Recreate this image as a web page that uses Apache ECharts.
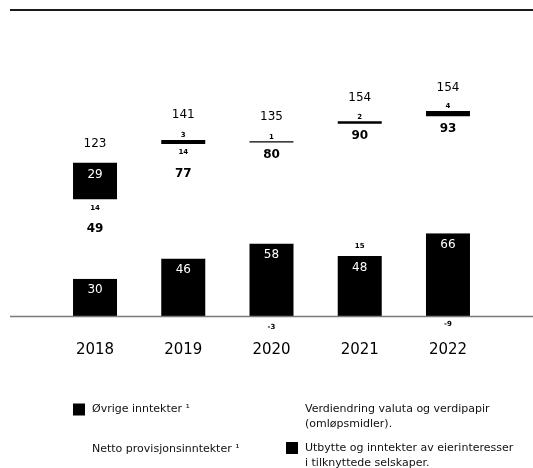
<!DOCTYPE html>
<html>
<head>
<meta charset="utf-8">
<script src="https://cdn.jsdelivr.net/npm/echarts@6/dist/echarts.min.js"></script>
<style>
html,body{margin:0;padding:0;background:#fff;}
#chart{width:533px;height:468px;}
</style>
</head>
<body>
<div id="chart"></div>
<script>
// ---- data ----
const years = ['2018', '2019', '2020', '2021', '2022'];
const utbytte = [30, 46, 58, 48, 66];
const verdiendring = [14, 14, -3, 15, -9];
const netto = [49, 77, 80, 90, 93];
const ovrige = [29, 3, 1, 2, 4];
const totals = [123, 141, 135, 154, 154];

const names = {
  ovrige: 'Øvrige inntekter ¹',
  netto: 'Netto provisjonsinntekter ¹',
  verdi: 'Verdiendring valuta og verdipapir\n(omløpsmidler).',
  utbytte: 'Utbytte og inntekter av eierinteresser\ni tilknyttede selskaper.'
};

// ---- label layout config (style only) ----
const verdiShownWithNetto = [true, true, false, false, false];
const verdiLabelPos = ['inside', 'inside', 'bottom', 'inside', 'inside'];
const ovrigeInside = [true, false, false, false, false];
const totalGap = [13, 19, 18, 17, 17];

const NUM_FONT = '"DejaVu Sans", sans-serif';
const TXT_FONT = '"DejaVu Sans", sans-serif';

const chart = echarts.init(document.getElementById('chart'));

const utbytteData = utbytte.map(v => ({ value: v }));
const verdiData = verdiendring.map((v, i) => ({
  value: v,
  label: {
    show: !verdiShownWithNetto[i],
    position: verdiLabelPos[i],
    distance: 3,
    offset: verdiLabelPos[i] === 'inside' && v < 0 ? [0, 2] : [0, 0]
  }
}));
const nettoData = netto.map(v => ({ value: v }));
const ovrigeData = ovrige.map((v, i) => ({
  value: v,
  label: ovrigeInside[i]
    ? { position: 'insideTop', distance: 6, color: '#fff', fontSize: 12, fontWeight: 'normal' }
    : { position: 'top', distance: 1, color: '#000', fontSize: 7, fontWeight: 'bold' }
}));
const sumData = totals.map((t, i) => ({
  value: 0,
  label: { distance: totalGap[i] }
}));

const legendBase = {
  padding: 0,
  itemWidth: 12,
  itemHeight: 12,
  icon: 'rect',
  selectedMode: false,
  textStyle: { fontSize: 11, lineHeight: 15, color: '#111', fontFamily: TXT_FONT, padding: [0, 0, 0, 2] }
};

const option = {
  animation: false,
  backgroundColor: '#fff',
  grid: { left: 50.9, right: 40.9, top: 64.5, bottom: 126.3, containLabel: false },
  xAxis: {
    type: 'category',
    data: years,
    axisLine: { show: false },
    axisTick: { show: false },
    axisLabel: { margin: 1, fontSize: 15, color: '#000', fontFamily: NUM_FONT },
    splitLine: { show: false }
  },
  yAxis: {
    type: 'value',
    min: -20,
    max: 200,
    show: false,
    splitLine: { show: false }
  },
  legend: [
    Object.assign({}, legendBase, { data: [names.ovrige], left: 73, top: 402 }),
    Object.assign({}, legendBase, { data: [names.netto], left: 73, top: 442 }),
    Object.assign({}, legendBase, { data: [names.verdi], left: 286, top: 401.5 }),
    Object.assign({}, legendBase, {
      data: [names.utbytte], left: 286, top: 425.5,
      formatter: n => '\n' + n
    })
  ],
  series: [
    {
      name: names.utbytte, type: 'bar', stack: 'a', barWidth: 44,
      itemStyle: { color: '#000' },
      label: { show: true, position: 'insideTop', distance: 5.5, color: '#fff', fontSize: 12, fontFamily: NUM_FONT },
      data: utbytteData
    },
    {
      name: names.verdi, type: 'bar', stack: 'a', barWidth: 44,
      itemStyle: { color: '#fff' },
      label: { show: true, color: '#000', fontSize: 7, fontWeight: 'bold', fontFamily: NUM_FONT },
      data: verdiData
    },
    {
      name: names.netto, type: 'bar', stack: 'a', barWidth: 44,
      itemStyle: { color: '#fff' },
      label: {
        show: true, position: 'insideTop', distance: 0,
        formatter: p => (verdiShownWithNetto[p.dataIndex] ? '{s|' + verdiendring[p.dataIndex] + '}\n' : '') + '{b|' + p.value + '}',
        rich: {
          s: { fontSize: 7, fontWeight: 'bold', lineHeight: 17, color: '#000', fontFamily: NUM_FONT },
          b: { fontSize: 12, fontWeight: 'bold', lineHeight: 25, color: '#000', fontFamily: NUM_FONT }
        }
      },
      data: nettoData
    },
    {
      name: names.ovrige, type: 'bar', stack: 'a', barWidth: 44,
      itemStyle: { color: '#000' },
      label: { show: true, fontFamily: NUM_FONT },
      data: ovrigeData
    },
    {
      name: 'Sum', type: 'bar', stack: 'a', barWidth: 44,
      itemStyle: { color: 'transparent' },
      label: {
        show: true, position: 'top', color: '#000', fontSize: 12, fontFamily: NUM_FONT,
        formatter: p => String(totals[p.dataIndex])
      },
      data: sumData
    }
  ]
};

chart.setOption(option);

const zeroY = chart.convertToPixel({ yAxisIndex: 0 }, 0);
chart.setOption({
  graphic: [
    { type: 'line', shape: { x1: 10, y1: 10, x2: 533, y2: 10 }, style: { stroke: '#1a1a1a', lineWidth: 2 }, z: 10 },
    { type: 'line', shape: { x1: 10, y1: zeroY, x2: 533, y2: zeroY }, style: { stroke: '#7a7a7a', lineWidth: 1.5 }, z: 10 }
  ]
});
</script>
</body>
</html>
